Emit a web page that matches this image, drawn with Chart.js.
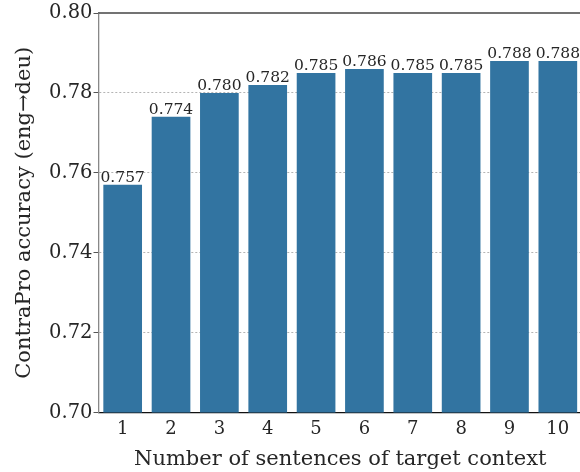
<!DOCTYPE html>
<html lang="en">

<head>
    <meta charset="UTF-8">
    <title>ContraPro accuracy by context size</title>
    <script src="https://cdn.jsdelivr.net/npm/chart.js"></script>
    <style>
        html, body { margin: 0; padding: 0; overflow: hidden; background: #fff; }
        #wrap { width: 584px; height: 472px; position: relative; }
    </style>
</head>

<body>
    <div id="wrap"><canvas id="barChart"></canvas></div>

    <script>
        // data
        const contextSizes = ['1', '2', '3', '4', '5', '6', '7', '8', '9', '10'];
        const accuracy = [0.757, 0.774, 0.780, 0.782, 0.785, 0.786, 0.785, 0.785, 0.788, 0.788];
        const yTicks = [0.70, 0.72, 0.74, 0.76, 0.78, 0.80];

        const serif = 'DejaVu Serif';
        const textColor = '#262626';

        // value labels above each bar + top spine
        const extras = {
            id: 'extras',
            afterDatasetsDraw(chart) {
                const ctx = chart.ctx;
                const meta = chart.getDatasetMeta(0);
                ctx.save();
                ctx.font = '15.5px "' + serif + '"';
                ctx.fillStyle = textColor;
                ctx.textAlign = 'center';
                ctx.textBaseline = 'alphabetic';
                meta.data.forEach((bar, i) => {
                    ctx.fillText(accuracy[i].toFixed(3), bar.x, bar.y - 3);
                });
                const area = chart.chartArea;
                ctx.strokeStyle = '#444';
                ctx.lineWidth = 1.3;
                ctx.beginPath();
                ctx.moveTo(area.left, area.top);
                ctx.lineTo(area.right, area.top);
                ctx.stroke();
                ctx.restore();
            }
        };

        new Chart(document.getElementById('barChart').getContext('2d'), {
            type: 'bar',
            data: {
                labels: contextSizes,
                datasets: [{
                    data: accuracy,
                    backgroundColor: '#3274a1',
                    categoryPercentage: 1.0,
                    barPercentage: 0.8
                }]
            },
            options: {
                responsive: true,
                maintainAspectRatio: false,
                animation: false,
                layout: { padding: { top: 13, right: 2, left: 0, bottom: 0 } },
                plugins: { legend: { display: false }, tooltip: { enabled: false } },
                scales: {
                    x: {
                        grid: { display: false, drawTicks: false },
                        border: { display: true, color: '#111', width: 1.3 },
                        ticks: {
                            color: textColor,
                            font: { family: serif, size: 18 },
                            padding: 6
                        },
                        title: {
                            display: true,
                            text: 'Number of sentences of target context',
                            color: textColor,
                            font: { family: serif, size: 21 },
                            padding: { top: 6, bottom: 0 }
                        },
                        afterFit(scale) { scale.height = 59.5; }
                    },
                    y: {
                        min: 0.70,
                        max: 0.80,
                        afterBuildTicks(scale) {
                            scale.ticks = yTicks.map(v => ({ value: v }));
                        },
                        grid: {
                            color: ctx => (ctx.tick && (ctx.tick.value <= 0.701 || ctx.tick.value >= 0.799)) ? 'rgba(0,0,0,0)' : '#b4b4b4',
                            lineWidth: 1,
                            tickColor: '#555',
                            tickLength: 5,
                            tickWidth: 1,
                            tickBorderDash: []
                        },
                        border: { display: true, color: '#888', width: 1.3, dash: [2, 2] },
                        ticks: {
                            color: textColor,
                            font: { family: serif, size: 19.5 },
                            padding: 1,
                            callback: v => Number(v).toFixed(2)
                        },
                        title: {
                            display: true,
                            text: 'ContraPro accuracy (eng\u2192deu)',
                            color: textColor,
                            font: { family: serif, size: 21 },
                            padding: { top: 12, bottom: 0 }
                        },
                        afterFit(scale) { scale.width = 98.5; }
                    }
                }
            },
            plugins: [extras]
        });
    </script>
</body>

</html>
